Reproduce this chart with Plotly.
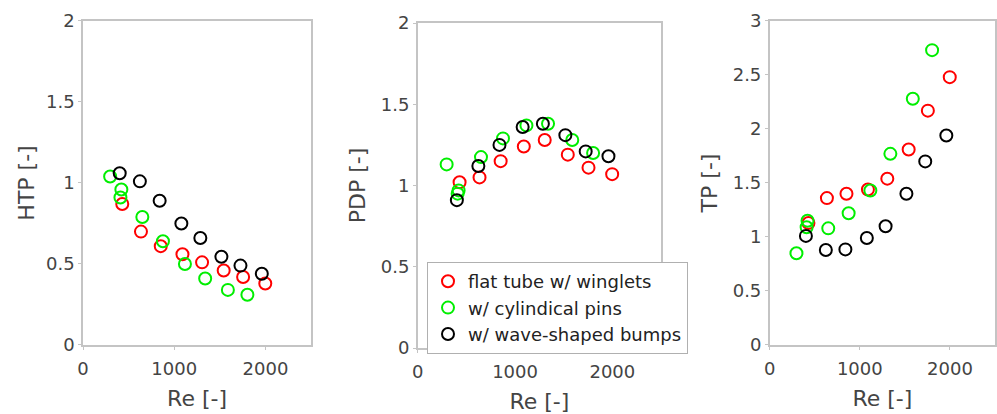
import plotly.graph_objects as go

# Reynolds numbers per series
re_red = [430, 635, 852, 1090, 1305, 1542, 1755, 1998]
re_green = [297, 420, 410, 650, 876, 1117, 1339, 1588, 1802]
re_black = [402, 623, 840, 1078, 1286, 1517, 1726, 1960]

# HTP
htp_red = [0.87, 0.70, 0.61, 0.56, 0.51, 0.46, 0.42, 0.38]
htp_green = [1.04, 0.96, 0.91, 0.79, 0.64, 0.50, 0.41, 0.34, 0.31]
htp_black = [1.06, 1.01, 0.89, 0.75, 0.66, 0.545, 0.49, 0.44]

# PDP
pdp_red = [1.02, 1.05, 1.15, 1.24, 1.28, 1.19, 1.11, 1.07]
pdp_green = [1.13, 0.97, 0.95, 1.175, 1.29, 1.37, 1.38, 1.28, 1.20]
pdp_black = [0.91, 1.12, 1.25, 1.36, 1.38, 1.31, 1.21, 1.18]

# TP
tp_red = [1.13, 1.36, 1.40, 1.44, 1.54, 1.81, 2.17, 2.48]
tp_green = [0.85, 1.15, 1.09, 1.08, 1.22, 1.43, 1.77, 2.28, 2.73]
tp_black = [1.01, 0.88, 0.885, 0.99, 1.10, 1.40, 1.70, 1.94]

names = ["flat tube w/ winglets", "w/ cylindical pins", "w/ wave-shaped bumps"]
colors = ["#ff0000", "#00ee00", "#000000"]
xs = [re_red, re_green, re_black]
panels = [
    ([htp_red, htp_green, htp_black], "HTP [-]", [0, 2], [0, 0.5, 1, 1.5, 2], ["0", "0.5", "1", "1.5", "2"]),
    ([pdp_red, pdp_green, pdp_black], "PDP [-]", [0, 2], [0, 0.5, 1, 1.5, 2], ["0", "0.5", "1", "1.5", "2"]),
    ([tp_red, tp_green, tp_black], "TP [-]", [0, 3], [0, 0.5, 1, 1.5, 2, 2.5, 3], ["0", "0.5", "1", "1.5", "2", "2.5", "3"]),
]
x_ticks = [0, 1000, 2000]
x_ticktext = ["0", "1000", "2000"]

xdomains = [[0.0833, 0.312], [0.419, 0.663], [0.772, 0.998]]
ydomains = [[0.1667, 0.9493], [0.1594, 0.9444], [0.1667, 0.9493]]
ystandoffs = [5, 9, 9]

FONT = "DejaVu Sans, Arial, sans-serif"
fig = go.Figure()
textcol = "#444444"
axcol = "#c4c4c4"
for p, (ys, ytitle, yr, yt, ytt) in enumerate(panels):
    sfx = "" if p == 0 else str(p + 1)
    for s in range(3):
        fig.add_trace(go.Scatter(
            x=xs[s], y=ys[s], mode="markers", name=names[s],
            xaxis="x" + sfx, yaxis="y" + sfx,
            showlegend=(p == 1),
            marker=dict(symbol="circle-open", size=12, color=colors[s],
                        line=dict(width=2, color=colors[s])),
        ))
    axstyle = dict(showline=True, linecolor=axcol, linewidth=1.5, mirror=True,
                   showgrid=False, zeroline=False, ticks="outside", ticklen=3,
                   tickcolor=axcol, automargin=False,
                   tickfont=dict(size=18, color=textcol, family=FONT))
    fig.layout["xaxis" + sfx] = dict(axstyle, domain=xdomains[p], range=[0, 2500],
        tickvals=x_ticks, ticktext=x_ticktext, anchor="y" + sfx,
        ticklabelstandoff=4,
        title=dict(text="Re [-]", standoff=12,
                   font=dict(size=22, color=textcol, family=FONT)))
    fig.layout["yaxis" + sfx] = dict(axstyle, domain=ydomains[p], range=yr,
        tickvals=yt, ticktext=ytt, anchor="x" + sfx,
        title=dict(text=ytitle, standoff=ystandoffs[p],
                   font=dict(size=22, color=textcol, family=FONT)))

fig.update_layout(
    width=997, height=414,
    margin=dict(l=0, r=0, t=0, b=0),
    paper_bgcolor="white", plot_bgcolor="white",
    legend=dict(x=427 / 997, y=1 - 262 / 414, xanchor="left", yanchor="top",
                bgcolor="white", bordercolor="#b0b0b0", borderwidth=1,
                font=dict(size=18, color="#222222", family=FONT),
                tracegroupgap=0, itemsizing="constant"),
)

fig.write_html("out.html")
